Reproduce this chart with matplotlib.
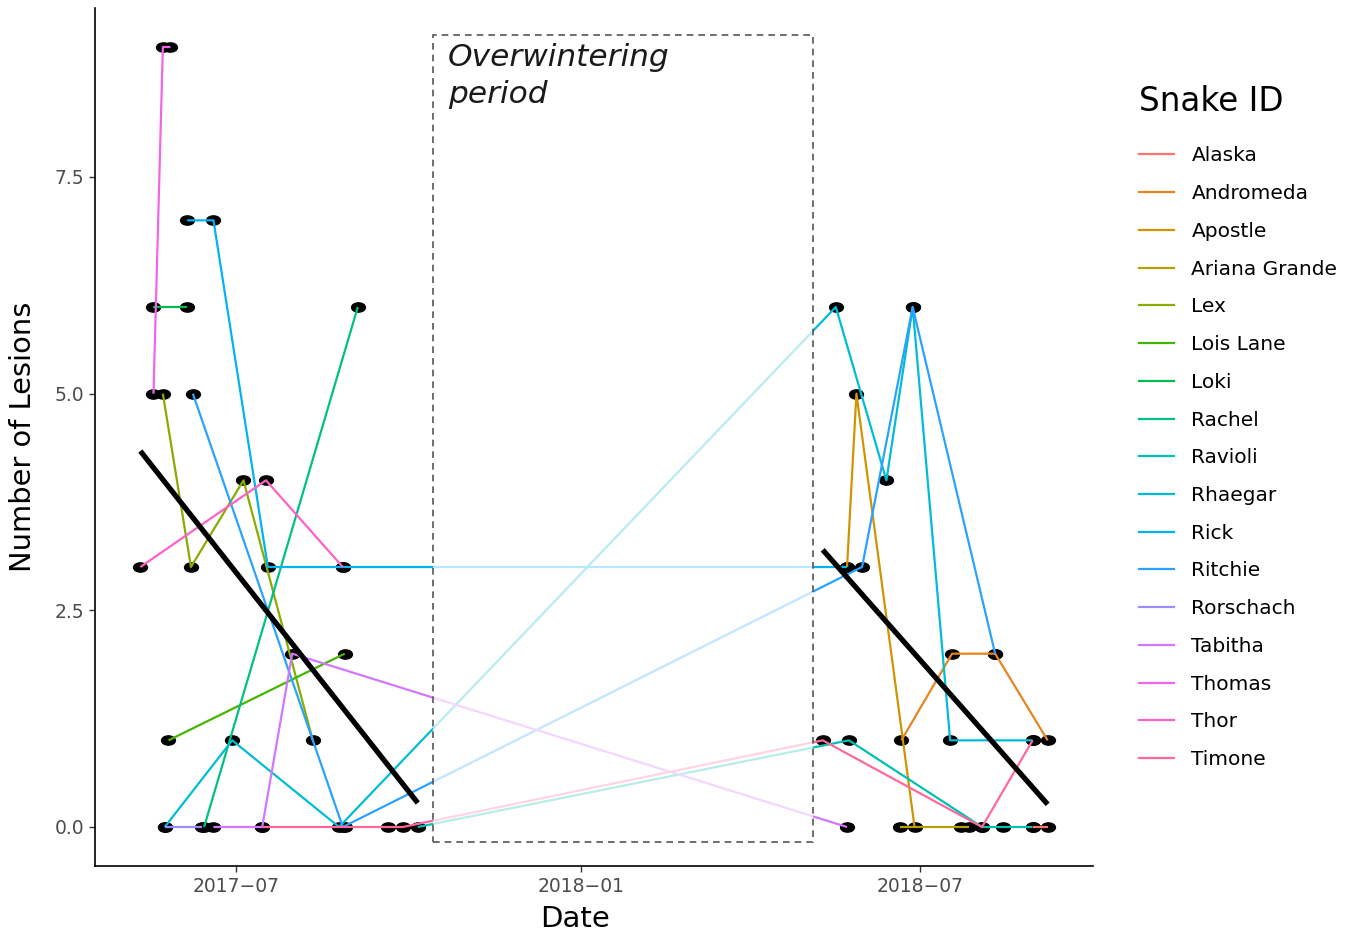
import numpy as np
import pandas as pd
import matplotlib
matplotlib.use("Agg")
import matplotlib.pyplot as plt
import matplotlib.dates as mdates
from matplotlib.path import Path
from matplotlib.lines import Line2D
from matplotlib.patches import Rectangle

# ---- data (long format: one row per capture) ----
snake_names = ["Alaska", "Andromeda", "Apostle", "Ariana Grande", "Lex", "Lois Lane",
               "Loki", "Rachel", "Ravioli", "Rhaegar", "Rick", "Ritchie", "Rorschach",
               "Tabitha", "Thomas", "Thor", "Timone"]

snake = (["Alaska"] * 2 + ["Andromeda"] * 4 + ["Apostle"] * 3 + ["Ariana Grande"] * 3
         + ["Lex"] * 4 + ["Lois Lane"] * 2 + ["Loki"] * 2 + ["Rachel"] * 2
         + ["Ravioli"] * 5 + ["Rhaegar"] * 8 + ["Rick"] * 5 + ["Ritchie"] * 5
         + ["Rorschach"] * 2 + ["Tabitha"] * 4 + ["Thomas"] * 3 + ["Thor"] * 3
         + ["Timone"] * 7)

date = [
    "2018-08-30", "2018-09-07",                                         # Alaska
    "2018-06-21", "2018-07-18", "2018-08-10", "2018-09-07",             # Andromeda
    "2018-05-23", "2018-05-28", "2018-06-28",                           # Apostle
    "2018-06-20", "2018-07-23", "2018-07-27",                           # Ariana Grande
    "2017-05-23", "2017-06-07", "2017-07-05", "2017-08-11",             # Lex
    "2017-05-26", "2017-08-28",                                         # Lois Lane
    "2017-05-18", "2017-06-05",                                         # Loki
    "2017-06-14", "2017-09-04",                                         # Rachel
    "2017-10-06", "2018-05-24", "2018-08-03", "2018-08-14", "2018-08-30",  # Ravioli
    "2017-05-24", "2017-06-29", "2017-08-25", "2018-05-17", "2018-06-13",
    "2018-06-27", "2018-07-17", "2018-08-30",                           # Rhaegar
    "2017-06-05", "2017-06-19", "2017-07-18", "2017-08-27", "2018-05-23",  # Rick
    "2017-06-08", "2017-08-27", "2018-05-31", "2018-06-27", "2018-08-10",  # Ritchie
    "2017-05-24", "2017-06-13",                                         # Rorschach
    "2017-06-19", "2017-07-15", "2017-07-31", "2018-05-23",             # Tabitha
    "2017-05-18", "2017-05-23", "2017-05-27",                           # Thomas
    "2017-05-11", "2017-07-17", "2017-08-27",                           # Thor
    "2017-07-15", "2017-08-28", "2017-09-20", "2017-09-28", "2018-05-10",
    "2018-08-03", "2018-08-30",                                         # Timone
]

lesions = [
    0, 0,
    1, 2, 2, 1,
    3, 5, 0,
    0, 0, 0,
    5, 3, 4, 1,
    1, 2,
    6, 6,
    0, 6,
    0, 1, 0, 0, 0,
    0, 1, 0, 6, 4, 6, 1, 1,
    7, 7, 3, 3, 3,
    5, 0, 3, 6, 2,
    0, 0,
    0, 0, 2, 0,
    5, 9, 9,
    3, 4, 3,
    0, 0, 0, 0, 1, 0, 1,
]

winter_start = "2017-10-14"
winter_end = "2018-05-05"
season_break = "2018-01-01"


def hue_palette(n, h_start=15.0, chroma=100.0, lum=65.0):
    """Evenly spaced HCL hues converted to sRGB hex codes."""
    hues = h_start + 360.0 / n * np.arange(n)
    xn, yn, zn = 95.047, 100.0, 108.883
    den = xn + 15 * yn + 3 * zn
    un, vn = 4 * xn / den, 9 * yn / den
    m = np.array([[3.2404542, -1.5371385, -0.4985314],
                  [-0.9692660, 1.8760108, 0.0415560],
                  [0.0556434, -0.2040259, 1.0572252]])
    out = []
    for h in hues:
        hr = np.deg2rad(h)
        u, v = chroma * np.cos(hr), chroma * np.sin(hr)
        y = yn * ((lum + 16) / 116) ** 3
        up, vp = u / (13 * lum) + un, v / (13 * lum) + vn
        x = y * 9 * up / (4 * vp)
        z = y * (12 - 3 * up - 20 * vp) / (4 * vp)
        rgb = m @ (np.array([x, y, z]) / 100.0)
        rgb = np.where(rgb <= 0.0031308, 12.92 * rgb, 1.055 * np.abs(rgb) ** (1 / 2.4) - 0.055)
        rgb = np.clip(rgb, 0, 1)
        out.append(matplotlib.colors.to_hex(rgb))
    return out


df = pd.DataFrame({"snake": snake, "date": pd.to_datetime(date), "lesions": lesions})
df["x"] = mdates.date2num(df["date"])
colors = dict(zip(snake_names, hue_palette(len(snake_names))))

fig = plt.figure(figsize=(13.53, 9.36), dpi=100)
ax = fig.add_axes([95 / 1353, 70 / 936, 998 / 1353, 858 / 936])

# capture points (wide oval markers)
circ = Path.unit_circle()
oval = Path(circ.vertices * np.array([1.5, 1.0]), circ.codes)
ax.plot(df["x"], df["lesions"], linestyle="none", marker=oval, markersize=10,
        color="black", zorder=2)

# one trajectory per snake
for name in snake_names:
    sub = df[df["snake"] == name].sort_values("date")
    ax.plot(sub["x"], sub["lesions"], color=colors[name], lw=1.6, zorder=3,
            solid_capstyle="butt")

# linear trend within each active season
brk = mdates.date2num(pd.Timestamp(season_break))
for mask in (df["x"] < brk, df["x"] >= brk):
    seas = df[mask]
    k, b = np.polyfit(seas["x"], seas["lesions"], 1)
    xs = np.array([seas["x"].min(), seas["x"].max()])
    ax.plot(xs, k * xs + b, color="black", lw=3.8, zorder=6, solid_capstyle="butt")

# axis ranges with 5% padding
xmin, xmax = df["x"].min(), df["x"].max()
ymin, ymax = df["lesions"].min(), df["lesions"].max()
ax.set_xlim(xmin - 0.05 * (xmax - xmin), xmax + 0.05 * (xmax - xmin))
ax.set_ylim(ymin - 0.05 * (ymax - ymin), ymax + 0.05 * (ymax - ymin))

# overwintering box
w0 = mdates.date2num(pd.Timestamp(winter_start))
w1 = mdates.date2num(pd.Timestamp(winter_end))
box_bottom, box_top = -0.17, 9.14
ax.add_patch(Rectangle((w0, box_bottom), w1 - w0, box_top - box_bottom,
                       facecolor="white", alpha=0.72, edgecolor="none", zorder=4))
ax.add_patch(Rectangle((w0, box_bottom), w1 - w0, box_top - box_bottom,
                       fill=False, edgecolor="#555555", lw=1.2,
                       linestyle=(0, (4, 3)), zorder=5))
ax.annotate("Overwintering\nperiod", xy=(w0, box_top), xytext=(11, -6),
            textcoords="offset points", ha="left", va="top",
            fontsize=22.5, fontstyle="italic", color="#1a1a1a", linespacing=1.32,
            zorder=7)

# axes styling (classic look)
for side in ("top", "right"):
    ax.spines[side].set_visible(False)
for side in ("left", "bottom"):
    ax.spines[side].set_linewidth(1.2)
    ax.spines[side].set_color("black")

ax.set_yticks([0, 2.5, 5.0, 7.5])
ax.yaxis.set_major_formatter(matplotlib.ticker.FormatStrFormatter("%.1f"))
ax.xaxis.set_major_locator(mdates.MonthLocator(bymonth=[1, 7]))
ax.xaxis.set_major_formatter(
    matplotlib.ticker.FuncFormatter(
        lambda v, pos: mdates.num2date(v).strftime("%Y-%m").replace("-", "\u2212")))
ax.tick_params(axis="both", length=4, width=1, color="#333333",
               labelcolor="#4D4D4D", labelsize=13.5, pad=4)

ax.set_xlabel("Date", fontsize=21, color="black")
ax.xaxis.label.set_va("center")
ax.xaxis.set_label_coords((575 - 95) / 998, (17 - 70) / 858)
ax.set_ylabel("Number of Lesions", fontsize=20.8, color="black")
ax.yaxis.label.set_va("center")
ax.yaxis.set_label_coords((23 - 95) / 998, 0.5)

handles = [Line2D([], [], color=colors[n], lw=1.6) for n in snake_names]
leg = fig.legend(handles, snake_names, loc="upper left",
                 bbox_to_anchor=(1139 / 1353, (936 - 85) / 936),
                 frameon=False, title="Snake ID", title_fontsize=23.5, fontsize=14.5,
                 handlelength=1.75, handletextpad=0.85, labelspacing=0.93,
                 borderpad=0, borderaxespad=0, alignment="left")
# extra room between the legend title and the first entry
leg._legend_box.sep = 20.5

fig.savefig("out.png", dpi=100, facecolor="white")
